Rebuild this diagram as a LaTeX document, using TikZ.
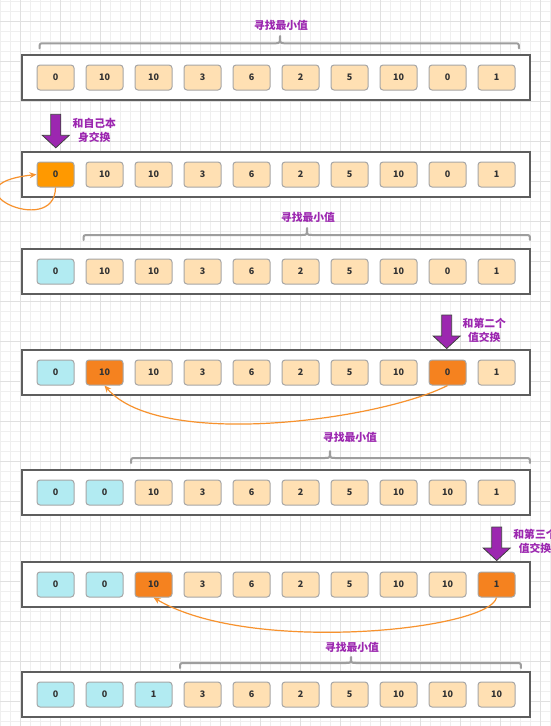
\documentclass[tikz,border=0pt]{standalone}
\usepackage{fontspec}
\setmainfont{Noto Sans CJK SC}
\usetikzlibrary{arrows.meta}
\definecolor{peach}{HTML}{FFE0B3}
\definecolor{cyanc}{HTML}{B2EBF2}
\definecolor{orA}{HTML}{FF9900}
\definecolor{orB}{HTML}{F5821F}
\definecolor{purp}{HTML}{9C27B0}
\definecolor{cellline}{HTML}{A6A6A6}
\definecolor{boxline}{HTML}{5E5E5E}
\definecolor{bracec}{HTML}{9E9E9E}
\definecolor{gridminor}{HTML}{EFEFEF}
\definecolor{gridmajor}{HTML}{E0E0E0}
\definecolor{curvec}{HTML}{F7922E}
\tikzset{
  container/.style={draw=boxline, line width=1.5pt, fill=white, minimum width=508pt, minimum height=45pt, inner sep=0pt},
  cell/.style={draw=cellline, line width=1pt, rounded corners=3pt, minimum width=37pt, minimum height=25pt, inner sep=0pt, font=\fontsize{9}{10}\selectfont\bfseries, text=black!80, fill=peach},
  bracestyle/.style={draw=bracec, line width=2pt, line cap=round, line join=round},
  purplabel/.style={text=purp, font=\fontsize{10.8}{14}\selectfont\bfseries, align=center, inner sep=0pt},
  arrowblk/.style={fill=purp, draw=black!75, line width=0.8pt, line join=miter},
  swapcurve/.style={draw=curvec, line width=1.2pt, -{Stealth[length=7pt,width=6pt]}},
}
\newcommand\drawrow[3]{%
  \node[container] (r#1) at (276,#2+22.5) {};
  \foreach \v/\c [count=\i from 0] in {#3} {
    \node[cell, fill=\c] (c#1-\i) at (55.5+49*\i, #2+22.5) {\v};
  }%
}
\newcommand\drawbracket[5]{%
  \draw[bracestyle] (#1,#4+5) .. controls (#1,#4) .. (#1+5,#4) -- (#3-5,#4)
    .. controls (#3,#4) .. (#3,#5) .. controls (#3,#4) .. (#3+5,#4) -- (#2-5,#4)
    .. controls (#2,#4) .. (#2,#4+5);%
}
\newcommand\blockarrow[2]{%
  \draw[arrowblk] (#1-5,#2) -- (#1+5,#2) -- (#1+5,#2+21) -- (#1+13.5,#2+21) -- (#1,#2+33.5)
    -- (#1-13.5,#2+21) -- (#1-5,#2+21) -- cycle;%
}
\begin{document}
\begin{tikzpicture}[x=1pt,y=-1pt]
\useasboundingbox (0,0) rectangle (550,726);
\fill[white] (0,0) rectangle (550,726);
% grid
\foreach \x in {0,10,...,550} \draw[gridminor, line width=1pt] (\x+0.5,0) -- (\x+0.5,726);
\foreach \y in {0,10,...,720} \draw[gridminor, line width=1pt] (0,\y+1.5) -- (550,\y+1.5);
\foreach \x in {20,60,...,540} \draw[gridmajor, line width=1pt] (\x+0.5,0) -- (\x+0.5,726);
\foreach \y in {20,60,...,700} \draw[gridmajor, line width=1pt] (0,\y+1.5) -- (550,\y+1.5);

% row 1
\drawbracket{39.5}{519}{280}{43.3}{36}
\node[purplabel] (t1) at (281,25) {寻找最小值};
\drawrow{1}{55}{0/peach,10/peach,10/peach,3/peach,6/peach,2/peach,5/peach,10/peach,0/peach,1/peach}

% row 2
\blockarrow{55.8}{114.3}
\node[purplabel] (a2) at (94.3,130) {和自己本\\身交换};
\drawrow{2}{152}{0/orA,10/peach,10/peach,3/peach,6/peach,2/peach,5/peach,10/peach,0/peach,1/peach}
\draw[swapcurve] (c2-0.south) .. controls (55,240) and (-60,185) .. (c2-0.west);

% row 3
\drawbracket{83.5}{530}{307}{235}{228}
\node[purplabel] (t3) at (308,217) {寻找最小值};
\drawrow{3}{249}{0/cyanc,10/peach,10/peach,3/peach,6/peach,2/peach,5/peach,10/peach,0/peach,1/peach}

% row 4
\blockarrow{446.7}{315}
\node[purplabel] (a4) at (484.3,330.3) {和第二个\\值交换};
\drawrow{4}{350}{0/cyanc,10/orB,10/peach,3/peach,6/peach,2/peach,5/peach,10/peach,0/orB,1/peach}
\draw[swapcurve] (c4-8.south) .. controls (380,420) and (160,450) .. (c4-1.south);

% row 5
\drawbracket{131}{530}{330}{458}{451}
\node[purplabel] (t5) at (350,437) {寻找最小值};
\drawrow{5}{470}{0/cyanc,0/cyanc,10/peach,3/peach,6/peach,2/peach,5/peach,10/peach,10/peach,1/peach}

% row 6
\blockarrow{496.7}{527}
\node[purplabel] (a6) at (535,541.5) {和第三个\\值交换};
\drawrow{6}{562}{0/cyanc,0/cyanc,10/orB,3/peach,6/peach,2/peach,5/peach,10/peach,10/peach,1/orB}
\draw[swapcurve] (c6-9.south) .. controls (490,630) and (250,655) .. (c6-2.south);

% row 7
\drawbracket{180}{521}{351}{663}{657}
\node[purplabel] (t7) at (352,647) {寻找最小值};
\drawrow{7}{672}{0/cyanc,0/cyanc,1/cyanc,3/peach,6/peach,2/peach,5/peach,10/peach,10/peach,10/peach}
\end{tikzpicture}
\end{document}
